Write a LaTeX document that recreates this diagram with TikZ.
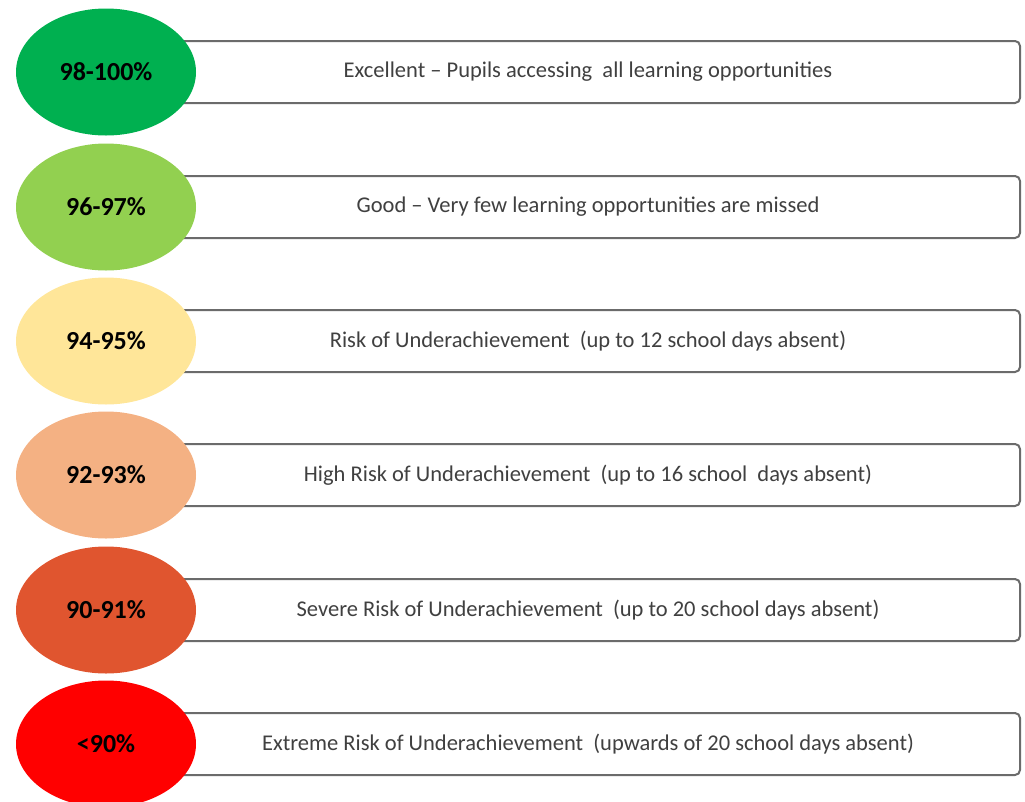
\documentclass[tikz,border=0pt]{standalone}
\usepackage{fontspec}
\setmainfont{Carlito}
\usetikzlibrary{shapes.geometric}
\definecolor{c1}{HTML}{00B050}
\definecolor{c2}{HTML}{92D050}
\definecolor{c3}{HTML}{FFE699}
\definecolor{c4}{HTML}{F4B183}
\definecolor{c5}{HTML}{E0552F}
\definecolor{c6}{HTML}{FF0000}
\definecolor{boxline}{HTML}{6B6B6B}
\definecolor{txt}{HTML}{404040}
\tikzset{
  bandbox/.style={draw=boxline, line width=2pt, rounded corners=5pt, fill=white,
    minimum width=864pt, minimum height=62pt, inner sep=0pt, anchor=east,
    font=\fontsize{22.5}{26}\selectfont, text=txt},
  pct/.style={ellipse, minimum width=180pt, minimum height=127pt, inner sep=0pt,
    font=\fontsize{26}{30}\selectfont\bfseries, text=black},
}
\begin{document}
\begin{tikzpicture}[x=1pt,y=-1pt]
\useasboundingbox (0,0) rectangle (1025,801);
\foreach \i/\y/\c/\p/\t in {
  1/72/c1/{98-100\%}/{Excellent – Pupils accessing~ all learning opportunities},
  2/207/c2/{96-97\%}/{Good – Very few learning opportunities are missed},
  3/341/c3/{94-95\%}/{Risk of Underachievement~ (up to 12 school days absent)},
  4/475/c4/{92-93\%}/{High Risk of Underachievement~ (up to 16 school~ days absent)},
  5/610/c5/{90-91\%}/{Severe Risk of Underachievement~ (up to 20 school days absent)},
  6/744/c6/{<90\%}/{Extreme Risk of Underachievement~ (upwards of 20 school days absent)}}{
  \node[bandbox] (b\i) at (1021,\y) {\t};
  \node[pct, fill=\c] (e\i) at (106,\y) {\p};
}
\end{tikzpicture}
\end{document}
